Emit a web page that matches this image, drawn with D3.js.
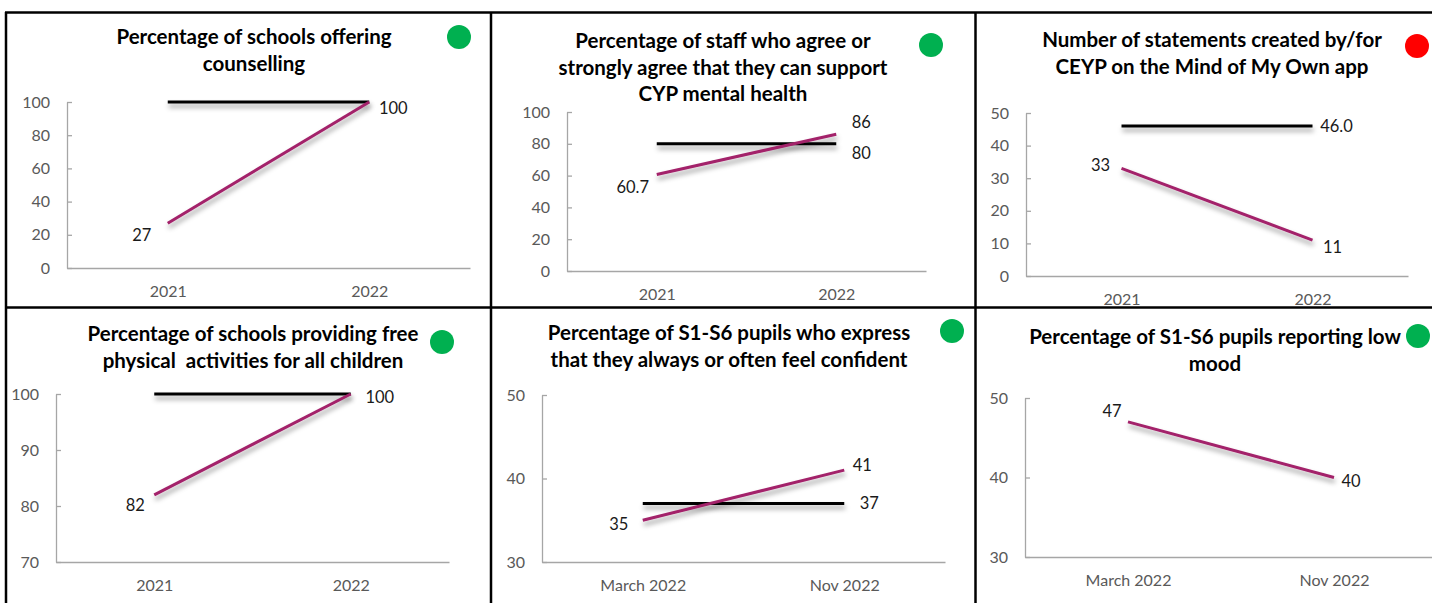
<!DOCTYPE html>
<html lang="en">

<head>
	<meta charset="utf-8">
	<title>Mental health indicators</title>
	<script type="text/javascript" src="https://cdn.jsdelivr.net/npm/d3@7"></script>
	<style type="text/css">
		body { margin: 0; background: #fff; }
		svg text { font-family: Lato, "Open Sans", sans-serif; }
		.title { font-weight: bold; font-size: 20.5px; fill: #000; white-space: pre; }
		.tick text { font-size: 16px; fill: #595959; }
		.lbl { font-size: 16.5px; fill: #1a1a1a; }
	</style>
</head>

<body>
	<script type="text/javascript">

		// data
		var titles = [
			["Percentage of schools offering", "counselling"],
			["Percentage of staff who agree or", "strongly agree that they can support", "CYP mental health"],
			["Number of statements created by/for", "CEYP on the Mind of My Own app"],
			["Percentage of schools providing free", "physical  activities for all children"],
			["Percentage of S1-S6 pupils who express", "that they always or often feel confident"],
			["Percentage of S1-S6 pupils reporting low", "mood"]
		];
		var yearCats = ["2021", "2022"];
		var surveyCats = ["March 2022", "Nov 2022"];
		var categories = [yearCats, yearCats, yearCats, yearCats, surveyCats, surveyCats];
		var actual = [[27, 100], [60.7, 86], [33, 11], [82, 100], [35, 41], [47, 40]];
		var target = [100, 80, 46, 100, 37, null];
		var targetFormat = ["", "", ".1f", "", "", ""];
		var ragStatus = ["green", "green", "red", "green", "green", "green"];
		var yDomains = [[0, 100], [0, 100], [0, 50], [70, 100], [30, 50], [30, 50]];
		var yTickSteps = [20, 20, 10, 10, 10, 10];

		// layout (pixel positions measured per panel)
		var layout = [
			{ ax: 67, ar: 470, yt: 102, yb: 268, tx: 254, ty: 37, dx: 459, dy: 37,
				sL: [-26, 12], eL: [24, 6], tL: [24, 6] },
			{ ax: 567, ar: 926, yt: 112, yb: 271, tx: 723, ty: 41, dx: 931, dy: 45,
				sL: [-24, 13], eL: [25, -12], tL: [25, 9] },
			{ ax: 1026, ar: 1408, yt: 113, yb: 276, tx: 1212, ty: 40, dx: 1417, dy: 46,
				sL: [-21, -3], eL: [20, 7], tL: [24, 0] },
			{ ax: 56, ar: 449, yt: 394, yb: 562, tx: 253, ty: 334, dx: 442, dy: 342,
				sL: [-19, 10], eL: [29, 3], tL: [29, 3] },
			{ ax: 542, ar: 945, yt: 395, yb: 562, tx: 729, ty: 333, dx: 952, dy: 331,
				sL: [-24, 4], eL: [18, -5], tL: [25, 0] },
			{ ax: 1025, ar: 1437, yt: 398, yb: 557, tx: 1215, ty: 337, dx: 1418, dy: 336,
				sL: [-16, -11], eL: [17, 4], tL: [0, 0] }
		];
		var dotColour = { green: "#00b050", red: "#ff0000" };

		var w = 1432;
		var h = 603;

		var svg = d3.select("body")
			.append("svg")
			.attr("width", w)
			.attr("height", h);

		// soft shadow under the lines (user space so flat lines still render)
		svg.append("defs")
			.append("filter")
			.attr("id", "shadow")
			.attr("filterUnits", "userSpaceOnUse")
			.attr("x", 0).attr("y", 0)
			.attr("width", w).attr("height", h)
			.append("feDropShadow")
			.attr("dx", 1)
			.attr("dy", 4)
			.attr("stdDeviation", 2.5)
			.attr("flood-color", "#000")
			.attr("flood-opacity", 0.38);

		// grid borders
		var borders = svg.append("g")
			.attr("stroke", "#000")
			.attr("stroke-width", 2.5);
		borders.append("line").attr("x1", 5).attr("x2", w).attr("y1", 12.5).attr("y2", 12.5);
		borders.append("line").attr("x1", 5).attr("x2", w).attr("y1", 307.5).attr("y2", 307.5);
		borders.append("line").attr("x1", 6).attr("x2", 6).attr("y1", 12).attr("y2", h);
		borders.append("line").attr("x1", 491).attr("x2", 491).attr("y1", 12).attr("y2", h);
		borders.append("line").attr("x1", 975.5).attr("x2", 975.5).attr("y1", 12).attr("y2", h);

		actual.forEach(function(vals, i){
			var L = layout[i];
			var g = svg.append("g");

			var x = d3.scalePoint()
				.domain(categories[i])
				.range([L.ax, L.ar])
				.padding(0.5);

			var y = d3.scaleLinear()
				.domain(yDomains[i])
				.range([L.yb, L.yt]);

			var ticks = d3.range(yDomains[i][0], yDomains[i][1] + 0.001, yTickSteps[i]);

			// axes
			var yAxis = g.append("g")
				.attr("transform", "translate(" + L.ax + ",0)")
				.call(d3.axisLeft(y).tickValues(ticks).tickSizeInner(-5).tickSizeOuter(0).tickPadding(17).tickFormat(d3.format("d")));

			var xAxis = g.append("g")
				.attr("transform", "translate(0," + L.yb + ")")
				.call(d3.axisBottom(x).tickSize(0).tickPadding(18));

			[xAxis, yAxis].forEach(function(a){
				a.selectAll("path, line").attr("stroke", "#a6a6a6").attr("stroke-width", 1.3);
				a.selectAll("text").attr("font-family", null).attr("font-size", null);
			});

			var line = d3.line()
				.x(function(d, j){ return x(categories[i][j]); })
				.y(function(d){ return y(d); });

			// target line
			if (target[i] !== null) {
				var tv = categories[i].map(function(){ return target[i]; });
				g.append("path")
					.attr("d", line(tv))
					.attr("fill", "none")
					.attr("stroke", "#000")
					.attr("stroke-width", 3)
					.attr("filter", "url(#shadow)");
			}

			// actual line
			g.append("path")
				.attr("d", line(vals))
				.attr("fill", "none")
				.attr("stroke", "#a3216a")
				.attr("stroke-width", 3)
				.attr("filter", "url(#shadow)");

			// data labels
			var x0 = x(categories[i][0]);
			var x1 = x(categories[i][1]);
			g.append("text")
				.attr("class", "lbl")
				.attr("x", x0 + L.sL[0])
				.attr("y", y(vals[0]) + L.sL[1])
				.attr("dy", "0.35em")
				.attr("text-anchor", "middle")
				.text(vals[0]);
			g.append("text")
				.attr("class", "lbl")
				.attr("x", x1 + L.eL[0])
				.attr("y", y(vals[1]) + L.eL[1])
				.attr("dy", "0.35em")
				.attr("text-anchor", "middle")
				.text(vals[1]);
			if (target[i] !== null && target[i] !== vals[1]) {
				var fmt = targetFormat[i] ? d3.format(targetFormat[i]) : function(d){ return d; };
				g.append("text")
					.attr("class", "lbl")
					.attr("x", x1 + L.tL[0])
					.attr("y", y(target[i]) + L.tL[1])
					.attr("dy", "0.35em")
					.attr("text-anchor", "middle")
					.text(fmt(target[i]));
			}

			// title
			g.selectAll("text.title")
				.data(titles[i])
				.enter()
				.append("text")
				.attr("class", "title")
				.attr("x", L.tx)
				.attr("y", function(d, j){ return L.ty + j * 26.5; })
				.attr("dy", "0.35em")
				.attr("text-anchor", "middle")
				.text(function(d){ return d; });

			// status dot
			g.append("circle")
				.attr("cx", L.dx)
				.attr("cy", L.dy)
				.attr("r", 12)
				.attr("fill", dotColour[ragStatus[i]]);
		});

	</script>
</body>

</html>
